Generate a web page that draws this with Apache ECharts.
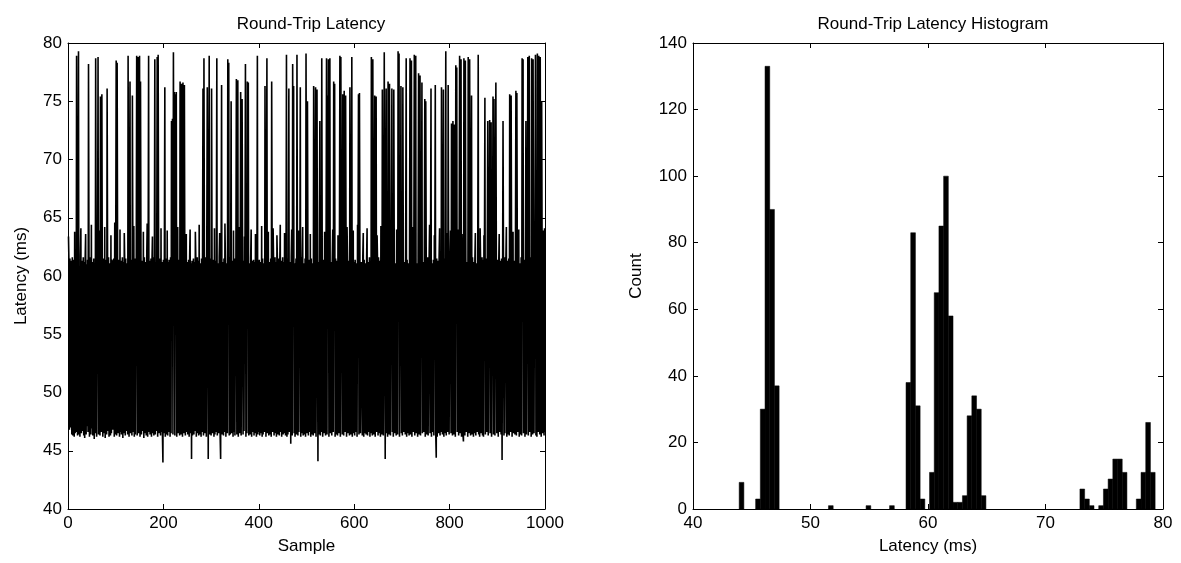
<!DOCTYPE html>
<html><head><meta charset="utf-8">
<script src="https://cdn.jsdelivr.net/npm/echarts@6/dist/echarts.min.js"></script>
<style>html,body{margin:0;padding:0;background:#fff}#c{width:1181px;height:563px}</style>
</head><body><div id="c"></div>
<script>
// ---- Round-trip latency samples (ms), 100 per block ----
const lat000 = [
63.4,61.2,46.8,61.5,47.0,58.7,61.3,46.4,61.6,46.3,
59.0,61.4,46.2,63.8,46.5,61.1,46.6,78.9,61.5,46.3,
61.0,79.3,46.4,58.6,46.2,61.7,64.1,46.5,61.3,46.7,
58.9,61.6,46.3,61.2,46.1,61.5,63.6,46.4,61.0,47.1,
61.4,46.6,78.2,61.3,46.2,58.5,61.6,46.4,64.4,46.9,
61.2,46.3,59.2,61.5,46.0,61.1,46.5,78.7,61.4,46.2,
58.8,61.3,78.8,46.4,61.6,63.9,46.3,75.4,61.2,46.6,
75.6,58.4,46.2,61.5,61.0,46.5,64.2,46.1,61.4,58.9,
46.4,76.1,61.3,46.7,61.6,46.2,58.6,61.1,46.3,63.5,
46.5,61.4,61.2,46.8,59.1,61.5,46.2,64.6,46.4,61.3];
const lat100 = [
78.5,46.3,78.3,61.2,46.5,58.7,61.4,46.2,64.0,46.6,
61.3,46.4,59.0,61.6,46.1,61.2,46.5,63.7,61.0,46.3,
61.5,46.7,58.5,61.1,46.4,78.9,61.3,46.2,61.6,76.7,
46.5,61.4,58.8,46.3,75.5,61.2,46.6,64.3,46.2,61.5,
46.4,61.1,58.6,78.9,46.3,61.4,78.8,46.5,61.2,78.9,
46.2,76.7,61.5,46.4,59.1,61.3,46.7,63.8,46.1,61.6,
46.5,61.2,58.7,46.3,61.4,64.5,46.2,61.0,78.9,46.6,
61.3,46.4,58.9,61.5,46.2,61.1,63.4,46.5,61.6,46.3,
58.5,78.6,46.4,61.2,46.7,61.4,78.8,46.2,79.0,61.3,
46.5,59.0,61.5,46.3,64.1,46.6,61.2,46.4,44.0,61.4];
const lat200 = [
46.5,61.3,76.2,46.2,58.8,61.5,46.4,63.9,46.3,61.2,
46.6,61.4,59.1,46.2,61.6,46.5,73.3,61.1,73.5,46.4,
79.2,61.3,75.8,46.3,75.6,61.5,75.8,46.2,61.2,64.2,
46.5,61.4,58.6,46.3,76.7,61.1,46.4,76.5,61.6,46.2,
76.6,61.3,46.5,76.4,58.9,46.3,61.5,63.6,46.6,61.2,
46.4,58.7,61.4,46.2,61.6,64.0,46.5,61.1,44.3,61.3,
46.3,59.0,61.5,46.4,61.2,46.7,63.8,61.4,46.2,58.5,
61.6,46.5,61.3,46.3,64.4,46.4,61.1,58.8,46.2,61.5,
46.6,61.2,76.1,46.3,78.7,61.4,46.5,59.2,61.6,46.2,
63.5,76.2,61.3,44.3,61.2,78.9,46.4,61.5,58.6,46.3];
const lat300 = [
76.1,61.2,46.5,61.4,58.7,46.2,64.1,46.4,61.3,46.6,
61.5,78.7,46.3,61.1,59.0,46.5,61.6,63.7,46.2,44.3,
61.4,76.4,46.4,61.2,58.5,46.3,61.5,46.6,64.5,61.3,
46.2,61.1,58.9,46.5,78.6,61.4,78.3,46.3,61.6,46.4,
61.2,75.0,46.5,59.1,61.3,46.2,63.9,46.6,61.5,46.3,
58.6,61.4,76.9,46.4,61.2,76.8,46.2,61.6,64.2,46.5,
61.1,75.8,46.3,58.8,75.2,61.5,46.4,61.3,46.7,63.4,
61.2,78.2,46.2,61.4,46.5,76.7,61.6,76.6,46.3,58.7,
61.1,46.4,61.5,64.0,46.2,61.3,46.6,57.0,61.4,46.3,
61.2,46.5,63.6,61.6,46.2,58.5,78.9,46.4,61.3,46.6];
const lat400 = [
61.4,46.3,58.9,61.2,46.5,64.3,46.2,61.5,46.4,61.1,
58.6,46.6,76.3,61.3,46.2,61.6,78.7,46.5,61.4,63.8,
46.3,61.2,59.1,46.4,61.5,46.2,76.7,61.1,46.6,64.1,
61.3,46.3,58.7,61.6,46.5,61.2,46.2,63.5,61.4,46.4,
58.8,61.5,46.3,61.1,64.4,46.6,61.3,46.2,59.0,61.6,
46.4,61.2,46.5,63.7,61.4,46.3,58.5,79.0,46.2,61.5,
46.4,61.3,76.1,46.6,58.9,61.2,45.6,61.6,64.0,46.3,
78.2,61.4,76.3,46.5,61.1,46.2,59.2,61.5,46.4,79.0,
61.3,46.3,63.9,46.6,61.2,58.6,76.2,46.2,61.6,46.5,
61.4,64.2,46.3,61.1,58.8,46.4,61.5,46.2,79.1,61.3];
const lat500 = [
46.5,75.0,61.2,46.3,58.7,61.4,46.6,63.6,46.2,61.5,
46.4,59.0,61.1,46.3,76.3,61.6,46.5,61.3,76.2,46.2,
61.4,76.0,58.6,44.1,61.2,46.4,64.3,73.3,46.3,61.5,
46.6,78.7,61.2,46.2,58.9,61.4,46.5,63.8,61.1,46.3,
61.6,78.7,46.4,75.5,61.3,78.6,46.2,61.5,78.7,46.5,
61.2,59.1,46.3,61.4,64.0,46.6,76.7,61.1,76.5,46.2,
61.5,58.5,46.4,61.3,46.3,63.5,61.6,46.5,61.2,78.9,
46.2,78.8,61.4,58.8,46.4,75.6,61.1,46.3,75.9,61.5,
46.6,75.5,61.2,46.2,64.2,61.4,46.5,59.0,61.3,46.3,
76.2,61.6,46.4,58.6,78.8,46.2,61.5,63.9,46.5,61.2];
const lat600 = [
46.3,61.4,58.7,46.6,61.1,46.2,64.4,61.5,75.6,46.4,
75.7,61.3,46.5,59.1,61.2,51.7,46.3,61.6,63.7,46.2,
61.4,46.5,58.9,61.1,46.4,61.5,64.1,46.3,61.2,46.6,
58.6,61.6,46.2,61.3,46.5,78.8,61.4,46.3,78.6,61.1,
46.4,59.0,75.5,46.2,61.5,75.4,46.6,63.5,61.2,46.3,
61.6,58.8,46.5,61.3,46.2,64.3,61.4,46.4,76.0,61.1,
46.3,58.5,79.2,61.5,44.3,61.2,76.1,46.5,61.6,46.2,
76.7,61.3,46.4,76.5,59.2,46.3,61.4,63.8,76.1,46.6,
61.2,46.2,76.0,61.5,46.5,58.7,61.1,46.3,64.0,61.6,
46.4,79.3,61.2,79.1,46.2,61.4,58.9,76.3,46.5,61.3];
const lat700 = [
46.3,76.2,61.5,46.6,58.6,61.2,46.4,63.6,78.7,46.2,
61.4,46.5,59.0,61.1,46.3,61.6,78.7,46.4,61.3,78.5,
46.2,61.5,64.2,46.6,61.2,79.0,46.3,61.4,78.9,46.5,
58.8,61.1,46.2,61.6,77.4,46.4,61.3,77.2,46.3,63.9,
61.5,76.6,46.5,58.5,61.2,46.6,61.4,75.2,46.2,75.0,
61.3,46.4,59.1,61.6,46.3,55.0,61.2,64.4,46.5,61.5,
76.1,46.2,61.1,58.7,46.6,61.4,46.3,63.5,61.2,76.4,
46.4,44.4,61.5,46.2,58.9,61.3,46.5,61.6,64.1,46.3,
61.2,46.6,76.2,61.4,46.4,59.0,76.0,46.2,61.5,46.5,
61.1,79.3,46.3,63.7,61.4,46.6,76.4,61.2,46.4,58.6];
const lat800 = [
61.3,63.9,46.5,73.1,61.2,46.3,73.3,64.2,46.4,73.0,
61.5,46.2,78.1,63.8,77.9,46.6,61.4,64.0,46.3,61.2,
78.9,46.5,61.6,78.6,46.2,63.6,61.3,46.4,45.8,78.7,
61.1,46.3,78.5,61.5,46.6,58.8,61.2,46.2,78.8,61.4,
46.5,78.6,61.3,46.3,64.3,75.5,46.4,61.6,59.1,46.2,
61.2,46.5,61.4,63.7,46.3,61.1,58.6,46.6,61.5,79.0,
46.4,61.3,46.2,64.1,61.2,46.5,58.9,61.6,46.3,61.4,
46.2,63.5,61.1,75.3,46.4,61.5,58.7,46.6,61.2,73.3,
46.3,61.4,64.4,73.4,46.5,61.6,73.2,46.2,59.0,61.3,
75.4,46.4,75.2,61.2,46.3,63.9,76.6,61.5,46.5,58.5];
const lat900 = [
61.4,46.2,61.1,63.6,46.6,61.3,58.8,46.4,61.5,44.2,
44.3,73.3,61.2,46.3,61.6,46.5,59.1,61.4,64.2,46.2,
61.3,46.4,58.6,61.5,46.3,75.6,61.2,46.6,75.5,61.1,
46.2,61.6,63.8,46.5,61.3,58.9,46.4,61.4,75.9,46.3,
75.7,61.2,46.6,61.5,64.0,46.2,61.1,59.0,46.4,61.6,
46.3,78.7,61.3,78.6,46.5,61.4,58.7,46.2,61.2,73.3,
46.4,61.5,63.5,78.8,46.3,61.1,78.9,46.6,61.6,58.5,
46.2,78.7,61.3,46.4,78.6,61.2,46.5,64.3,61.4,79.0,
46.3,61.5,46.2,79.1,61.1,46.6,78.9,61.3,46.4,78.8,
61.6,46.2,75.0,61.2,46.5,63.9,61.4,46.3,64.1,46.6];

// ---- Histogram (bin left edge in ms, count), bin width 0.4 ms ----
const histBinStart = [43.93,45.33,45.73,46.13,46.53,46.93,51.53,54.73,56.73,58.13,58.53,58.93,59.33,
  60.13,60.53,60.93,61.33,61.73,62.13,62.53,62.93,63.33,63.73,64.13,64.53,72.93,73.33,73.73,
  74.53,74.93,75.33,75.73,76.13,76.53,77.73,78.13,78.53,78.93];
const histCounts = [8,3,30,133,90,37,1,1,1,38,83,31,3,11,65,85,100,58,2,2,4,28,34,30,4,6,3,1,
  1,6,9,15,15,11,3,11,26,11];
const histBinWidth = 0.4;

// ---- Axis ticks ----
const sampleTicks = [0,200,400,600,800,1000];
const latencyTicksY = [40,45,50,55,60,65,70,75,80];
const latencyTicksX = [40,50,60,70,80];
const countTicks = [0,20,40,60,80,100,120,140];

const latency = [].concat(lat000,lat100,lat200,lat300,lat400,lat500,lat600,lat700,lat800,lat900);
const lineData = latency.map((v,i)=>[i+1, v]);
const histData = histBinStart.map((s,i)=>[s, s+histBinWidth, histCounts[i]]);

const FONT = '"Liberation Sans", Arial, Helvetica, sans-serif';
const FS = 17;
function rng(t){ return {min:t[0], max:t[t.length-1], interval:t[1]-t[0]}; }
function axis(extra, ticks, showLabel){
  return Object.assign({
    type:'value', scale:false,
    axisLine:{show:true, onZero:false, lineStyle:{color:'#000', width:1}},
    axisTick:{show:true, inside:true, length:5, lineStyle:{color:'#000', width:1}},
    splitLine:{show:false},
    axisLabel:{show:showLabel, color:'#000', fontSize:FS, fontFamily:FONT, margin:6,
               formatter:function(v){ return String(v); }},
    nameTextStyle:{color:'#000', fontSize:FS, fontFamily:FONT}
  }, rng(ticks), extra);
}

const chart = echarts.init(document.getElementById('c'), null, {renderer:'canvas'});
chart.setOption({
  animation:false,
  backgroundColor:'#fff',
  title:[
    {text:'Round-Trip Latency', left:306, top:11, textAlign:'center',
     textStyle:{fontSize:FS, fontWeight:'normal', color:'#000', fontFamily:FONT}},
    {text:'Round-Trip Latency Histogram', left:928, top:11, textAlign:'center',
     textStyle:{fontSize:FS, fontWeight:'normal', color:'#000', fontFamily:FONT}}
  ],
  grid:[
    {left:68, top:43, width:477, height:466},
    {left:693, top:43, width:470, height:466}
  ],
  xAxis:[
    axis({gridIndex:0, position:'bottom', name:'Sample', nameLocation:'middle', nameGap:29}, sampleTicks, true),
    axis({gridIndex:0, position:'top'}, sampleTicks, false),
    axis({gridIndex:1, position:'bottom', name:'Latency (ms)', nameLocation:'middle', nameGap:29}, latencyTicksX, true),
    axis({gridIndex:1, position:'top'}, latencyTicksX, false)
  ],
  yAxis:[
    axis({gridIndex:0, position:'left', name:'Latency (ms)', nameLocation:'middle', nameGap:38}, latencyTicksY, true),
    axis({gridIndex:0, position:'right'}, latencyTicksY, false),
    axis({gridIndex:1, position:'left', name:'Count', nameLocation:'middle', nameGap:48}, countTicks, true),
    axis({gridIndex:1, position:'right'}, countTicks, false)
  ],
  series:[
    {type:'line', xAxisIndex:0, yAxisIndex:0, data:lineData, symbol:'none', showSymbol:false,
     lineStyle:{color:'#000', width:1.6}, silent:true},
    {type:'custom', xAxisIndex:2, yAxisIndex:2, data:histData, encode:{x:[0,1], y:2},
     renderItem:function(params, api){
       const p0 = api.coord([api.value(0), api.value(2)]);
       const p1 = api.coord([api.value(1), 0]);
       return {type:'rect', shape:{x:p0[0], y:p0[1], width:p1[0]-p0[0], height:p1[1]-p0[1]},
               style:{fill:'#000', stroke:'#000', lineWidth:0.5}};
     }}
  ]
});
</script>
</body></html>
